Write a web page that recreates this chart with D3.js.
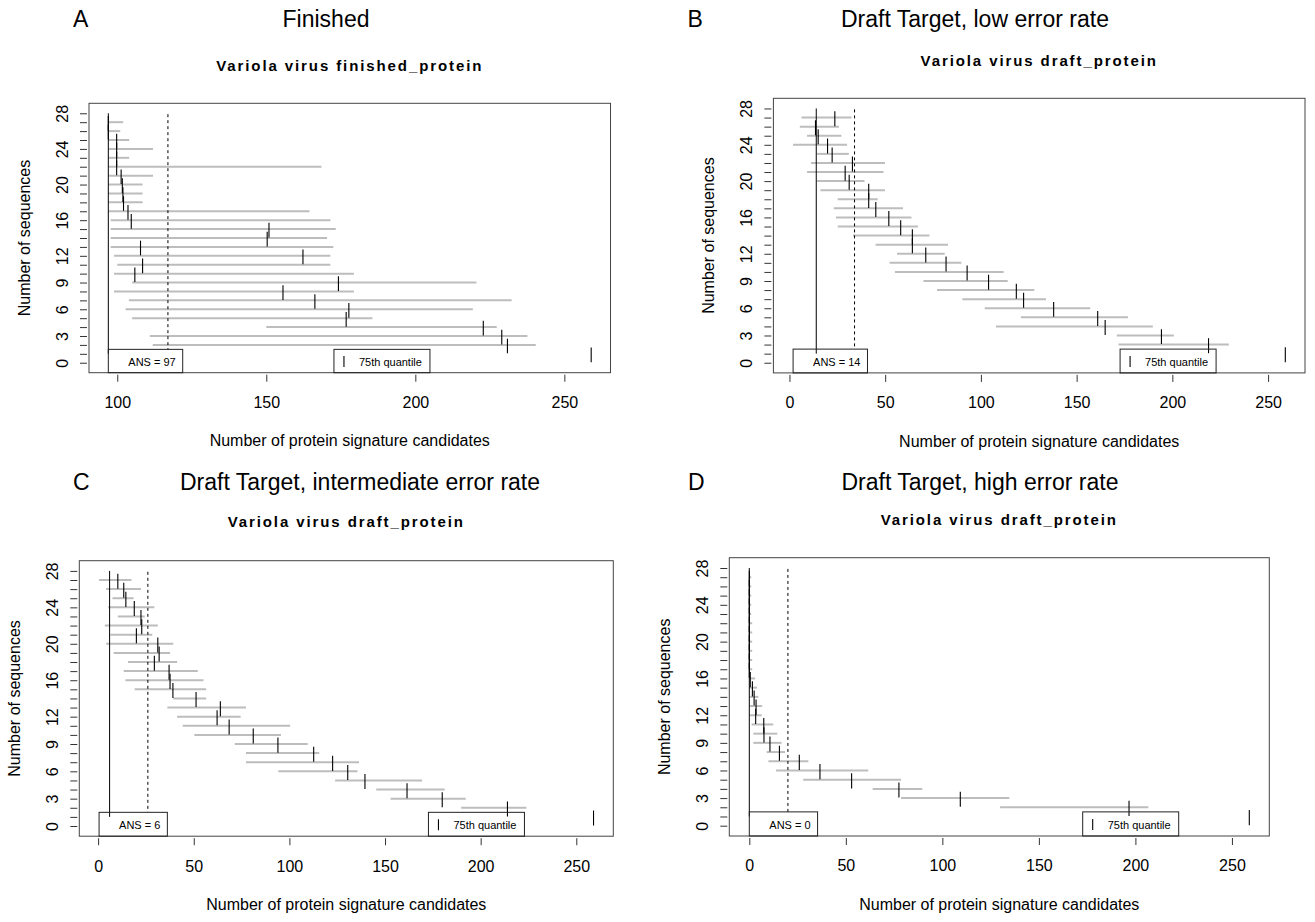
<!DOCTYPE html>
<html lang="en">
<head>
    <meta charset="UTF-8">
    <title>Variola virus protein signature candidates</title>
    <script src="https://d3js.org/d3.v7.min.js"></script>
    <style>
        body { margin: 0; background: #fff; }
        svg { display: block; font-family: "Liberation Sans", Arial, Helvetica, sans-serif; }
        .letter, .header { font-size: 23px; fill: #000; }
        .title { font-size: 15px; font-weight: bold; letter-spacing: 1.9px; fill: #000; }
        .axis text { font-family: "Liberation Sans", Arial, sans-serif; font-size: 16px; fill: #000; }
        .axis line { stroke: #333; }
        .axis-label { font-size: 16px; fill: #000; }
        .frame { fill: none; stroke: #444; stroke-width: 1; }
        .range { stroke: #bdbdbd; stroke-width: 2; }
        .q75 { stroke: #000; stroke-width: 1.1; }
        .ans { stroke: #000; stroke-width: 1; }
        .cutoff { stroke: #000; stroke-width: 1; stroke-dasharray: 3,3; }
        .legend-box { fill: none; stroke: #222; stroke-width: 1; }
        .legend { font-size: 11px; fill: #000; }
    </style>
</head>
<body>
<svg id="chart" width="1315" height="922"></svg>
<script>
    // rows: number of sequences
    const seqCounts = [1, 2, 3, 4, 5, 6, 7, 8, 9, 10, 11, 12, 13, 14, 15, 16, 17, 18, 19, 20, 21, 22, 23, 24, 25, 26, 27];
    const yTicks = [0, 1, 2, 3, 4, 5, 6, 7, 8, 9, 10, 11, 12, 13, 14, 15, 16, 17, 18, 19, 20, 21, 22, 23, 24, 25, 26, 27, 28];
    const yTickLabels = [0, 3, 6, 9, 12, 16, 20, 24, 28];
    const xTicksFinished = [100, 150, 200, 250];
    const xTicksDraft = [0, 50, 100, 150, 200, 250];

    // A: finished (min, max, 75th quantile per row)
    const finishedLo = [259, 111.9, 110.9, 150, 105, 102.8, 103.9, 98.9, 105, 98.9, 100, 98.9, 97.8, 97.8, 97.8, 97.8, 97, 97, 97, 97, 97, 97, 97, 97, 97, 97, 97];
    const finishedHi = [259, 240.4, 237.6, 227.3, 185.6, 219.3, 232.3, 179.4, 220.5, 179.4, 171.5, 171.5, 172.5, 170.4, 173.3, 171.5, 164.5, 108.5, 108.5, 108.5, 112, 168.5, 104, 112, 104, 101, 102];
    const finishedQ3 = [259, 230.9, 229, 222.8, 176.8, 177.7, 166.3, 155.6, 174.2, 105.9, 108.5, 162.3, 107.8, 150.3, 150.9, 104.7, 103.6, 102.1, 101.9, 101.7, 101.3, 99.8, 99.8, 99.8, 99.8, 97, 97];

    // B: draft, low error rate
    const lowLo = [259, 171.9, 171, 107.9, 120.9, 102, 90.3, 77.1, 70, 55.1, 52.3, 56.2, 45, 33.2, 25.2, 24.3, 23.1, 25.2, 16.2, 14.4, 9.2, 11.3, 14.4, 1.9, 9.2, 5.4, 6.3];
    const lowHi = [259, 229.5, 200.8, 189.8, 176.8, 157.1, 134, 127.9, 114, 111.9, 89.8, 81.1, 82.8, 73.1, 67.1, 63.7, 59.3, 46.1, 49.9, 39.2, 49.1, 49.9, 31, 30.1, 27.1, 25.9, 32.4];
    const lowQ3 = [259, 218.9, 194.3, 164.9, 161, 138, 122.3, 118.5, 104, 92.8, 81.8, 71.2, 64.2, 64.2, 58.1, 51.9, 45.1, 41.4, 41.4, 31.2, 29.1, 32.9, 22.3, 19.9, 15, 13.6, 23.7];

    // C: draft, intermediate error rate
    const midLo = [259, 189.8, 152.9, 145.4, 123.9, 94.2, 77.3, 77.3, 71.4, 50.3, 44.2, 41.3, 36.2, 39.3, 19.1, 14.3, 13.4, 15.6, 8.1, 4.2, 6.4, 3.5, 10.3, 5.3, 7.5, 4.2, 0.5];
    const midHi = [259, 223.9, 192.2, 181.2, 169.4, 135.6, 136.4, 115.6, 109.6, 95.6, 100.4, 74.5, 77.3, 56.5, 56.5, 55.1, 52.1, 41.3, 37.6, 39.3, 28.3, 31.2, 24.4, 29.4, 18.5, 22.4, 17.4];
    const midQ3 = [259, 214, 179.9, 161.5, 139.5, 130.5, 122.6, 112.7, 94, 81.1, 68.5, 62.2, 63.9, 51.2, 39.1, 37.6, 37.1, 29.4, 31.9, 31.2, 20, 22.8, 22.4, 18.9, 14.5, 13.4, 10.3];

    // D: draft, high error rate
    const highLo = [259, 129.9, 78.6, 63.9, 27.9, 13.8, 9.9, 9, 2.1, 2.1, 1.2, 0, 0, 0, 0, 0, 0, 0, 0, 0, 0, 0, 0, 0, 0, 0, 0];
    const highHi = [259, 206.7, 134.7, 89.6, 78.6, 61.6, 30.6, 18.5, 16.7, 14.5, 12.4, 6.4, 6.7, 4.7, 4, 3, 1.5, 1.5, 1.5, 1.5, 1.5, 1.5, 1, 1, 1, 1, 1];
    const highQ3 = [259, 196.7, 109.3, 77.5, 53, 36.6, 25.9, 15.6, 10.7, 7.6, 7.5, 3.3, 3.5, 2.5, 1.6, 0.5, 0, 0, 0, 0, 0, 0, 0, 0, 0, 0, 0];

    const ansValues = [97, 14, 6, 0];
    const cutoffValues = [117, 34, 26, 20];
    const quantileLegendX = 172.7;

    const letters = ["A", "B", "C", "D"];
    const headers = ["Finished", "Draft Target, low error rate", "Draft Target, intermediate error rate", "Draft Target, high error rate"];
    const titles = ["Variola virus finished_protein", "Variola virus draft_protein", "Variola virus draft_protein", "Variola virus draft_protein"];
    const xLabel = "Number of protein signature candidates";
    const yLabel = "Number of sequences";

    const panels = [
        { lo: finishedLo, hi: finishedHi, q3: finishedQ3, xTicks: xTicksFinished },
        { lo: lowLo, hi: lowHi, q3: lowQ3, xTicks: xTicksDraft },
        { lo: midLo, hi: midHi, q3: midQ3, xTicks: xTicksDraft },
        { lo: highLo, hi: highHi, q3: highQ3, xTicks: xTicksDraft }
    ];

    // plot boxes and text placement for each panel
    const layout = [
        { left: 89, right: 610.5, top: 103.3, bottom: 372.7, letterX: 73, headerX: 326, headerY: 26.5, titleY: 71 },
        { left: 773.4, right: 1305, top: 98.3, bottom: 372.9, letterX: 687.5, headerX: 975, headerY: 26.5, titleY: 65.5 },
        { left: 79.3, right: 613.3, top: 560.7, bottom: 836.2, letterX: 73, headerX: 360, headerY: 490, titleY: 527 },
        { left: 729.3, right: 1269.3, top: 557.7, bottom: 836, letterX: 688, headerX: 980, headerY: 490, titleY: 524.5 }
    ];

    const svg = d3.select("#chart");
    panels.forEach((d, i) => drawPanel(d, layout[i], i));

    function drawPanel(d, p, i) {
        const ext = d3.extent(d.lo.concat(d.hi));
        const pad = (ext[1] - ext[0]) * 0.04;
        const x = d3.scaleLinear().domain([ext[0] - pad, ext[1] + pad]).range([p.left, p.right]);
        const y = d3.scaleLinear().domain([-1.12, 29.12]).range([p.bottom, p.top]);
        const g = svg.append("g");

        g.append("text").attr("class", "letter").attr("x", p.letterX).attr("y", p.headerY).text(letters[i]);
        g.append("text").attr("class", "header").attr("x", p.headerX).attr("y", p.headerY)
            .attr("text-anchor", "middle").text(headers[i]);
        g.append("text").attr("class", "title").attr("x", (p.left + p.right) / 2).attr("y", p.titleY)
            .attr("text-anchor", "middle").text(titles[i]);

        // axes sit a little outside the frame, like the original R plots
        g.append("g").attr("class", "axis")
            .attr("transform", `translate(0,${p.bottom + 2})`)
            .call(d3.axisBottom(x).tickValues(d.xTicks).tickSize(7).tickPadding(15).tickFormat(d3.format("d")))
            .call(a => a.select(".domain").remove());

        g.append("g").attr("class", "axis")
            .attr("transform", `translate(${p.left - 2},0)`)
            .call(d3.axisLeft(y).tickValues(yTicks).tickSize(7)
                .tickFormat(v => yTickLabels.includes(v) ? v : ""))
            .call(a => a.select(".domain").remove())
            .selectAll(".tick text")
            .attr("transform", "rotate(-90)")
            .attr("x", 0).attr("y", -25).attr("dy", "0.35em")
            .attr("text-anchor", "middle");

        g.append("text").attr("class", "axis-label")
            .attr("x", (p.left + p.right) / 2).attr("y", p.bottom + 68).attr("dy", "0.35em")
            .attr("text-anchor", "middle").text(xLabel);
        g.append("text").attr("class", "axis-label")
            .attr("transform", `translate(${p.left - 65},${(p.top + p.bottom) / 2}) rotate(-90)`)
            .attr("dy", "0.35em").attr("text-anchor", "middle").text(yLabel);

        g.append("rect").attr("class", "frame")
            .attr("x", p.left).attr("y", p.top)
            .attr("width", p.right - p.left).attr("height", p.bottom - p.top);

        const rows = seqCounts.map((k, j) => ({ k: k, lo: d.lo[j], hi: d.hi[j], q3: d.q3[j] }));

        g.selectAll(".range").data(rows).join("line").attr("class", "range")
            .attr("x1", r => x(r.lo)).attr("x2", r => x(r.hi))
            .attr("y1", r => y(r.k)).attr("y2", r => y(r.k));

        g.append("line").attr("class", "ans")
            .attr("x1", x(ansValues[i])).attr("x2", x(ansValues[i]))
            .attr("y1", y(28)).attr("y2", y(1));
        g.append("line").attr("class", "cutoff")
            .attr("x1", x(cutoffValues[i])).attr("x2", x(cutoffValues[i]))
            .attr("y1", y(27.9)).attr("y2", y(1.5));

        g.selectAll(".q75").data(rows).join("line").attr("class", "q75")
            .attr("x1", r => x(r.q3)).attr("x2", r => x(r.q3))
            .attr("y1", r => y(r.k + 0.7)).attr("y2", r => y(r.k - 0.95));

        // legends
        const ly = y(1.5);
        const lmid = (ly + p.bottom) / 2 + 1;
        const ax = x(ext[0]);
        const ansText = g.append("text").attr("class", "legend")
            .attr("x", ax + 20).attr("y", lmid).attr("dy", "0.35em")
            .text(`ANS = ${ansValues[i]}`);
        const aw = ansText.node().getComputedTextLength();
        g.append("rect").attr("class", "legend-box")
            .attr("x", ax).attr("y", ly).attr("width", aw + 27).attr("height", p.bottom - ly);

        const qx = x(quantileLegendX);
        g.append("line").attr("class", "q75")
            .attr("x1", qx + 10).attr("x2", qx + 10)
            .attr("y1", lmid - 6).attr("y2", lmid + 5);
        const qText = g.append("text").attr("class", "legend")
            .attr("x", qx + 25).attr("y", lmid).attr("dy", "0.35em")
            .text("75th quantile");
        const qw = qText.node().getComputedTextLength();
        g.append("rect").attr("class", "legend-box")
            .attr("x", qx).attr("y", ly).attr("width", qw + 33).attr("height", p.bottom - ly);
    }
</script>
</body>
</html>
